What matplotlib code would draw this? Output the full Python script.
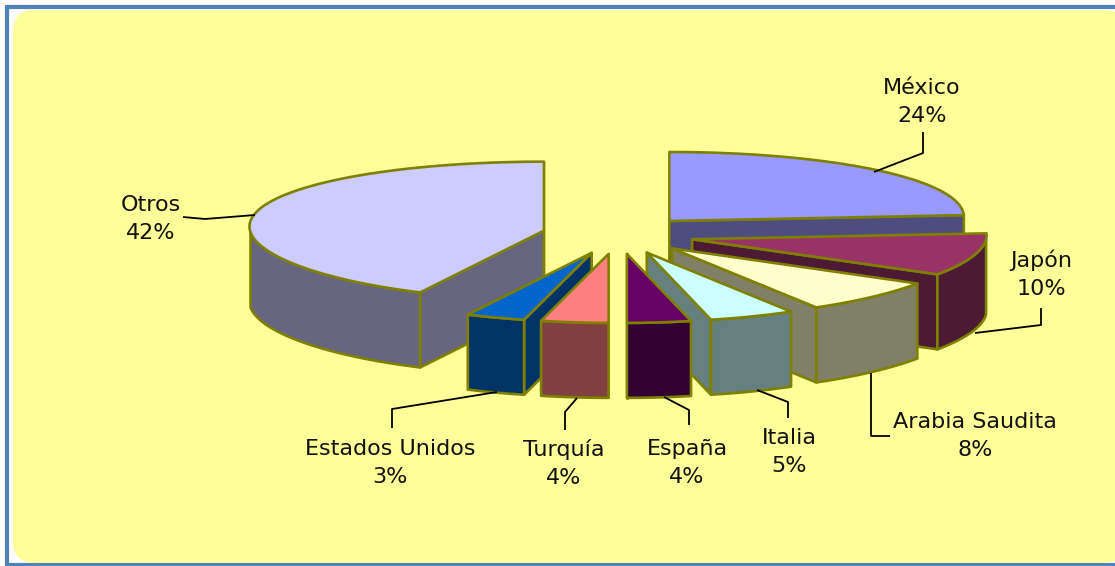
"""
    Torta 3D separada: porciones con cara superior, pared exterior y caras de corte.
"""

import numpy as np
import matplotlib
matplotlib.use("Agg")
import matplotlib.pyplot as plt
from matplotlib.patches import FancyBboxPatch, Polygon, Rectangle

# Datos (orden horario desde las 12)
paises = ['México', 'Japón', 'Arabia Saudita', 'Italia', 'España',
          'Turquía', 'Estados Unidos', 'Otros']
etiquetas = ['24%', '10%', '8%', '5%', '4%', '4%', '3%', '42%']
valores = [23.5, 9.8, 7.8, 4.9, 3.7, 3.9, 3.4, 42.4]
colores_sup = ['#9999FF', '#993366', '#FFFFCC', '#CCFFFF', '#660066',
               '#FF8080', '#0066CC', '#CCCCFF']
colores_lat = ['#4D4D80', '#4D1A33', '#808066', '#668080', '#330033',
               '#804040', '#003366', '#666680']

# Geometria de la torta en pixeles
CX, CY = 618, 235
RX, RY = 294, 69
PROF = 75
EXP_X, EXP_Y = 76, 19
PERSP = 0.06
BORDE = '#808000'


def elipse(ang, ax0, ay0):
    """ Puntos sobre el borde; angulos en grados desde las 12, sentido horario.
        PERSP estrecha un poco la parte delantera, como la vista 3D original.
    """
    t = np.radians(ang)
    return (ax0 + RX * np.sin(t) * (1 + PERSP * np.cos(t)),
            ay0 - RY * np.cos(t))


def dibuja_porcion(ax, a1, a2, sup, lat):
    med = np.radians((a1 + a2) / 2)
    x0 = CX + EXP_X * np.sin(med)
    y0 = CY - EXP_Y * np.cos(med)
    ang = np.linspace(a1, a2, 80)
    xs, ys = elipse(ang, x0, y0)
    kw = dict(edgecolor=BORDE, linewidth=1.9, joinstyle='round')

    # caras de corte visibles
    if np.sin(np.radians(a1)) < 0:
        ax.add_patch(Polygon([(x0, y0), (xs[0], ys[0]), (xs[0], ys[0] + PROF),
                              (x0, y0 + PROF)], facecolor=lat, **kw))
    if np.sin(np.radians(a2)) > 0:
        ax.add_patch(Polygon([(x0, y0), (xs[-1], ys[-1]), (xs[-1], ys[-1] + PROF),
                              (x0, y0 + PROF)], facecolor=lat, **kw))

    # pared exterior, solo la mitad que mira al frente
    frente = np.cos(np.radians(ang)) <= 0
    if frente.sum() > 1:
        xf, yf = xs[frente], ys[frente]
        pared = np.r_[np.c_[xf, yf], np.c_[xf[::-1], yf[::-1] + PROF]]
        ax.add_patch(Polygon(pared, facecolor=lat, **kw))

    # cara superior
    tapa = np.r_[[[x0, y0]], np.c_[xs, ys]]
    ax.add_patch(Polygon(tapa, facecolor=sup, **kw))


def main():
    fig = plt.figure(figsize=(11.15, 5.66), dpi=100)
    ax = fig.add_axes([0, 0, 1, 1])
    ax.set_xlim(0, 1115)
    ax.set_ylim(566, 0)
    ax.axis('off')

    # Marco azul y panel amarillo
    ax.add_patch(Rectangle((7, 7), 1125, 558, facecolor='white',
                           edgecolor='#4F81BD', linewidth=3))
    ax.add_patch(FancyBboxPatch((13, 10), 1112, 553,
                                boxstyle='round,pad=0,rounding_size=22',
                                facecolor='#FFFF99', edgecolor='none'))

    # Angulos acumulados a partir de los valores
    limites = np.r_[0, np.cumsum(valores)] * 360 / sum(valores)
    orden = [7, 0, 1, 2, 3, 4, 6, 5]
    for i in orden:
        dibuja_porcion(ax, limites[i], limites[i + 1],
                       colores_sup[i], colores_lat[i])

    # Lineas guia
    guias = [
        [(874, 172), (923, 153), (923, 132)],
        [(975, 333), (1041, 325), (1041, 308)],
        [(871, 373), (871, 436), (890, 436)],
        [(757, 390), (788, 402), (788, 418)],
        [(664, 397), (689, 410), (689, 425)],
        [(577, 398), (565, 412), (565, 430)],
        [(497, 392), (392, 409), (392, 428)],
        [(255, 215), (205, 219), (183, 217)],
    ]
    for g in guias:
        gx, gy = zip(*g)
        ax.plot(gx, gy, color='black', linewidth=1.3, solid_capstyle='butt')

    # Rotulos: pais en una linea, porcentaje debajo
    pos_texto = [(922, 102), (1041, 274), (975, 436), (789, 452),
                 (687, 463), (564, 464), (390, 463), (151, 219)]
    for pais, et, (tx, ty) in zip(paises, etiquetas, pos_texto):
        ax.text(tx, ty, pais + '\n' + et, ha='center', va='center',
                fontsize=16, family='DejaVu Sans', color='#111111',
                linespacing=1.5)

    fig.savefig('out.png', dpi=100)


if __name__ == "__main__":
    main()
